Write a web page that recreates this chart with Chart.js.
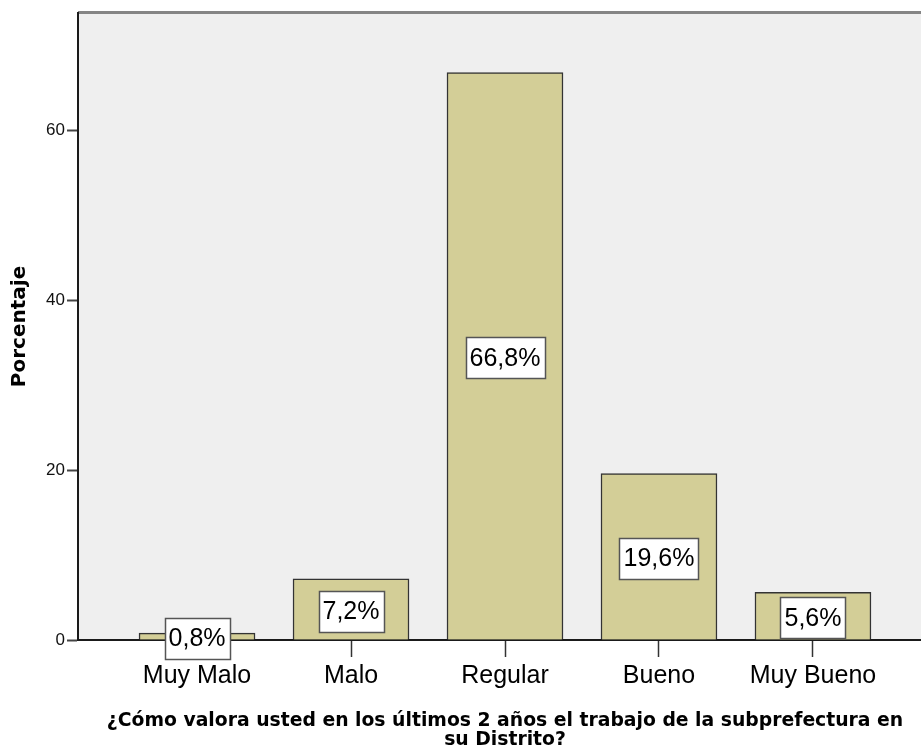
<!DOCTYPE html>
<html>
<head>
<meta charset="utf-8">
<title>Valoración del trabajo de la subprefectura</title>
<script src="https://cdn.jsdelivr.net/npm/chart.js@4.4.1/dist/chart.umd.min.js"></script>
<style>
  html, body { margin: 0; padding: 0; background: #fff; overflow: hidden; }
  #grafico { display: block; }
</style>
</head>
<body>
<canvas id="grafico" width="940" height="756"></canvas>
<script>
const categorias = ["Muy Malo", "Malo", "Regular", "Bueno", "Muy Bueno"];
const porcentajes = [0.8, 7.2, 66.8, 19.6, 5.6];
const ticksY = [0, 20, 40, 60];
const tituloX = ["¿Cómo valora usted en los últimos 2 años el trabajo de la subprefectura en", "su Distrito?"];
const tituloY = "Porcentaje";

const fuenteArial = "'Liberation Sans', Arial, sans-serif";
const fuenteTitulo = "'DejaVu Sans', Verdana, sans-serif";

// fondo gris del área de trazado y borde superior
const fondoPlot = {
  id: "fondoPlot",
  beforeDraw(chart) {
    const { ctx, chartArea: a } = chart;
    ctx.save();
    ctx.fillStyle = "#efefef";
    ctx.fillRect(a.left, a.top, a.right - a.left, a.bottom - a.top);
    ctx.strokeStyle = "#858585";
    ctx.lineWidth = 3;
    ctx.beginPath();
    ctx.moveTo(a.left, a.top - 0.5);
    ctx.lineTo(a.right, a.top - 0.5);
    ctx.stroke();
    ctx.restore();
  }
};

// cajas blancas con el porcentaje en cada barra
const etiquetas = {
  id: "etiquetas",
  afterDatasetsDraw(chart) {
    const { ctx } = chart;
    const meta = chart.getDatasetMeta(0);
    ctx.save();
    ctx.font = "25px " + fuenteArial;
    ctx.textAlign = "center";
    ctx.textBaseline = "middle";
    meta.data.forEach((bar, i) => {
      const txt = porcentajes[i].toFixed(1).replace(".", ",") + "%";
      const w = Math.round(ctx.measureText(txt).width + 8);
      const h = 41;
      const cy = (bar.y + bar.base) / 2 + 2;
      const x0 = Math.round(bar.x - w / 2) + 0.5;
      const y0 = Math.round(cy - h / 2) + 0.5;
      ctx.fillStyle = "#fff";
      ctx.fillRect(x0, y0, w, h);
      ctx.strokeStyle = "#555";
      ctx.lineWidth = 1.5;
      ctx.strokeRect(x0, y0, w, h);
      ctx.fillStyle = "#000";
      ctx.fillText(txt, bar.x, cy + 1);
    });
    ctx.restore();
  }
};

new Chart(document.getElementById("grafico"), {
  type: "bar",
  data: {
    datasets: [{
      data: porcentajes.map((v, i) => ({ x: i, y: v })),
      backgroundColor: "#d3ce97",
      borderColor: "#333",
      borderWidth: 1.5,
      barThickness: 116
    }]
  },
  options: {
    responsive: false,
    animation: false,
    layout: { padding: { top: 13, right: 8, left: 0, bottom: 0 } },
    plugins: {
      legend: { display: false },
      tooltip: { enabled: false }
    },
    scales: {
      x: {
        type: "linear",
        offset: false,
        min: -0.773,
        max: 4.773,
        afterBuildTicks: (s) => { s.ticks = categorias.map((c, i) => ({ value: i })); },
        afterFit: (s) => { s.height = 116; },
        ticks: {
          autoSkip: false,
          maxRotation: 0,
          padding: 4,
          color: "#000",
          font: { family: fuenteArial, size: 25 },
          callback: (v) => categorias[v] ?? ""
        },
        grid: { offset: false, drawOnChartArea: false, tickLength: 17, tickWidth: 1.5, tickColor: "#333" },
        border: { color: "#1a1a1a", width: 2 },
        title: {
          display: true,
          text: tituloX,
          color: "#000",
          font: { family: fuenteTitulo, weight: "bold", size: 18.8, lineHeight: 1.02 },
          padding: { top: 0, bottom: 6 }
        }
      },
      y: {
        min: 0,
        max: 73.8,
        afterBuildTicks: (s) => { s.ticks = ticksY.map((v) => ({ value: v })); },
        afterFit: (s) => { s.width = 78; },
        ticks: {
          padding: 2,
          color: "#111",
          font: { family: fuenteArial, size: 17 }
        },
        grid: { drawOnChartArea: false, tickLength: 11, tickWidth: 2, tickColor: "#444" },
        border: { color: "#1a1a1a", width: 2 },
        title: {
          display: true,
          text: tituloY,
          color: "#000",
          font: { family: fuenteTitulo, weight: "bold", size: 20 },
          padding: { top: 8, bottom: 0 }
        }
      }
    }
  },
  plugins: [fondoPlot, etiquetas]
});
</script>
</body>
</html>
